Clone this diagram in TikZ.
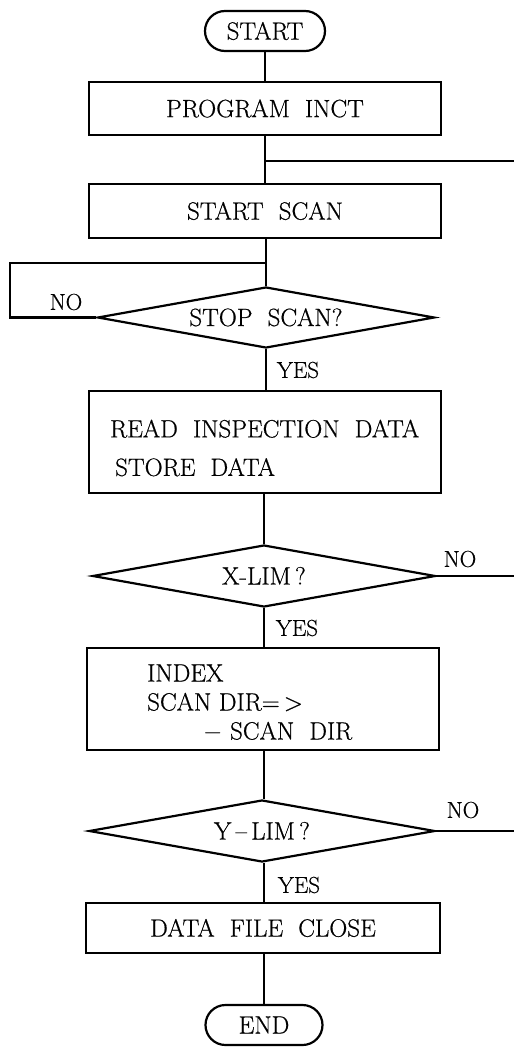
\documentclass[tikz,border=0pt]{standalone}
\usepackage{fontspec}
\setmainfont{Latin Modern Roman}[FakeBold=0.6]
\usetikzlibrary{shapes.geometric}
\newcommand{\dtext}[1]{\makebox[0pt]{\smash{\raisebox{-8.5pt}{#1}}}}
\begin{document}
\begin{tikzpicture}[x=1pt,y=-1pt,
  every node/.style={font=\fontsize{25}{29}\selectfont, inner sep=0pt},
  line/.style={line width=2.2pt},
  procbox/.style={draw, line width=2.2pt, rectangle, minimum width=352pt},
  termbox/.style={draw, line width=2.2pt, rectangle, rounded corners=20pt, minimum height=40pt},
  decbox/.style={draw, line width=2.2pt, diamond, minimum height=62pt},
  lbl/.style={font=\fontsize{23}{26}\selectfont}]
\useasboundingbox (0,0) rectangle (514,1047);
% nodes
\node[termbox, minimum width=120pt] (start) at (265,31) {START};
\node[procbox, minimum height=53pt] (prog) at (265,108.5) {PROGRAM\hspace{15pt}INCT};
\node[procbox, minimum height=54pt] (scan) at (265,211) {START\ \ SCAN};
\node[decbox, minimum width=337pt, minimum height=61pt] (stop) at (266,317.5) {\dtext{STOP\ \ SCAN?}};
\node[procbox, minimum height=102pt] (read) at (265,442) {};
\node[anchor=west, align=left, font=\fontsize{25}{38.5}\selectfont] (readtxt) at (110,448)
  {READ\ \ INSPECTION\ \ DATA\\\hspace{5pt}STORE\ \ DATA};
\node[decbox, minimum width=343pt] (xlim) at (264,576) {\dtext{X-LIM\,?}};
\node[procbox, minimum height=102pt] (index) at (263,699) {};
\node[anchor=west, align=left, font=\fontsize{25}{29}\selectfont] (indextxt) at (147,703)
  {INDEX\\SCAN\ DIR=\,>\\\hspace{56pt}$-$\ SCAN\ \ DIR};
\node[decbox, minimum width=346pt] (ylim) at (262,831) {\dtext{Y\,--\,LIM\,?}};
\node[procbox, minimum height=50pt, minimum width=354pt] (close) at (263,928) {DATA\ \ FILE\ \ CLOSE};
\node[termbox, minimum width=117pt] (end) at (264,1025) {END};
% labels
\node[lbl] (no1) at (66,302) {NO};
\node[lbl] (yes1) at (298,370) {YES};
\node[lbl] (no2) at (460,559) {NO};
\node[lbl] (yes2) at (297,628) {YES};
\node[lbl] (no3) at (463,810) {NO};
\node[lbl] (yes3) at (299,885) {YES};
% coordinates
\coordinate (j0) at (265,161);
\coordinate (r0) at (514,161);
\coordinate (j1) at (265,263);
\coordinate (l1) at (10,263);
\coordinate (l2) at (10,317.5);
\coordinate (r2) at (514,576);
\coordinate (r3) at (514,831);
% connectors
\draw[line] (start) -- (prog);
\draw[line] (prog) -- (scan);
\draw[line] (r0) -- (j0);
\draw[line] (scan.south -| stop.north) -- (stop.north);
\draw[line] (stop.west) -- (l2) -- (l1) -- (j1);
\draw[line] (stop.south) -- (read.north -| stop.south);
\draw[line] (read.south -| xlim.north) -- (xlim.north);
\draw[line] (xlim.east) -- (r2);
\draw[line] (xlim.south) -- (index.north -| xlim.south);
\draw[line] (index.south -| xlim.south) -- (ylim.north -| xlim.south);
\draw[line] (ylim.east) -- (r3);
\draw[line] (ylim.south -| xlim.south) -- (close.north -| xlim.south);
\draw[line] (close.south -| xlim.south) -- (end.north -| xlim.south);
\end{tikzpicture}
\end{document}
